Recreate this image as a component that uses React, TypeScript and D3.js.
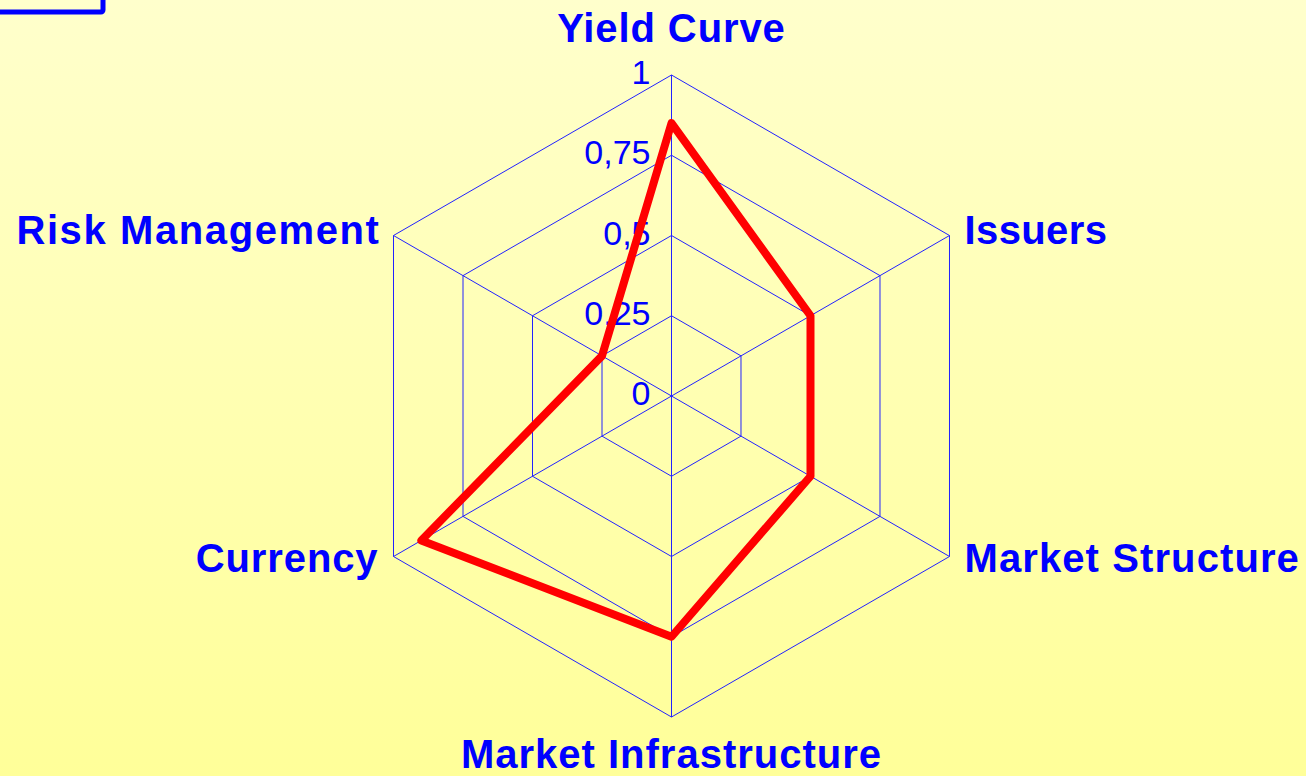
import React, { useEffect, useRef } from "react";
import * as d3 from "d3";

const axes = [
  "Yield Curve",
  "Issuers",
  "Market Structure",
  "Market Infrastructure",
  "Currency",
  "Risk Management",
];
const scores = [0.85, 0.5, 0.5, 0.75, 0.9, 0.25];
const ticks = [0, 0.25, 0.5, 0.75, 1];
const tickLabels = ["0", "0,25", "0,5", "0,75", "1"];

const W = 1306;
const H = 776;
const cx = 671.5;
const cy = 396;
const R = 321;

export default function App() {
  const ref = useRef<SVGSVGElement>(null);

  useEffect(() => {
    const svg = d3.select(ref.current);
    svg.selectAll("*").remove();

    const defs = svg.append("defs");
    const grad = defs
      .append("linearGradient")
      .attr("id", "bg")
      .attr("x1", 0)
      .attr("y1", 0)
      .attr("x2", 0)
      .attr("y2", 1);
    grad.append("stop").attr("offset", 0).attr("stop-color", "#FFFFCC");
    grad.append("stop").attr("offset", 1).attr("stop-color", "#FFFF99");

    svg.append("rect").attr("width", W).attr("height", H).attr("fill", "url(#bg)");

    // leftover frame in the corner
    svg
      .append("rect")
      .attr("x", -50)
      .attr("y", -50)
      .attr("width", 153)
      .attr("height", 62)
      .attr("fill", "none")
      .attr("stroke", "#0000FF")
      .attr("stroke-width", 5)
      .attr("rx", 2);

    const r = d3.scaleLinear().domain([0, 1]).range([0, R]);
    const angle = d3
      .scaleLinear()
      .domain([0, axes.length])
      .range([0, 2 * Math.PI]);

    const g = svg.append("g").attr("transform", `translate(${cx},${cy})`);

    const ringLine = d3
      .lineRadial<number>()
      .angle((_, i) => angle(i))
      .radius((d) => r(d))
      .curve(d3.curveLinearClosed);

    ticks
      .filter((t) => t > 0)
      .forEach((t) => {
        g.append("path")
          .attr("d", ringLine(axes.map(() => t)))
          .attr("fill", "none")
          .attr("stroke", "#2222ff")
          .attr("stroke-width", 1);
      });

    axes.forEach((_, i) => {
      const a = angle(i);
      g.append("line")
        .attr("x1", 0)
        .attr("y1", 0)
        .attr("x2", r(1) * Math.sin(a))
        .attr("y2", -r(1) * Math.cos(a))
        .attr("stroke", "#2222ff")
        .attr("stroke-width", 1);
    });

    // tick labels
    g.selectAll("text.tick")
      .data(ticks)
      .join("text")
      .attr("class", "tick")
      .attr("x", -21)
      .attr("y", (d) => -r(d) + 9)
      .attr("text-anchor", "end")
      .attr("font-family", "'Liberation Sans', Arial, sans-serif")
      .attr("font-size", 34)
      .attr("fill", "#0000FF")
      .text((_, i) => tickLabels[i]);

    // data polygon
    g.append("path")
      .attr("d", ringLine(scores))
      .attr("fill", "none")
      .attr("stroke", "#FF0000")
      .attr("stroke-width", 8)
      .attr("stroke-linejoin", "round");

    // axis labels
    const labelPos = [
      { dx: 0, dy: -33, anchor: "middle", ls: 0.9 },
      { dx: 15, dy: 8, anchor: "start", ls: 0.4 },
      { dx: 15, dy: 15, anchor: "start", ls: 1.1 },
      { dx: 0, dy: 51, anchor: "middle", ls: 1 },
      { dx: -15, dy: 15, anchor: "end", ls: 0.9 },
      { dx: -13, dy: 8, anchor: "end", ls: 1.6 },
    ];
    axes.forEach((name, i) => {
      const a = angle(i);
      const x = r(1) * Math.sin(a);
      const y = -r(1) * Math.cos(a);
      const p = labelPos[i];
      g.append("text")
        .attr("x", x + p.dx)
        .attr("y", y + p.dy)
        .attr("text-anchor", p.anchor)
        .attr("font-family", "'Liberation Sans', Arial, sans-serif")
        .attr("font-weight", "bold")
        .attr("font-size", 40)
        .attr("letter-spacing", p.ls)
        .attr("fill", "#0000FF")
        .text(name);
    });
  }, []);

  return (
    <svg
      ref={ref}
      width={W}
      height={H}
      style={{ position: "absolute", left: 0, top: 0, display: "block" }}
    />
  );
}
